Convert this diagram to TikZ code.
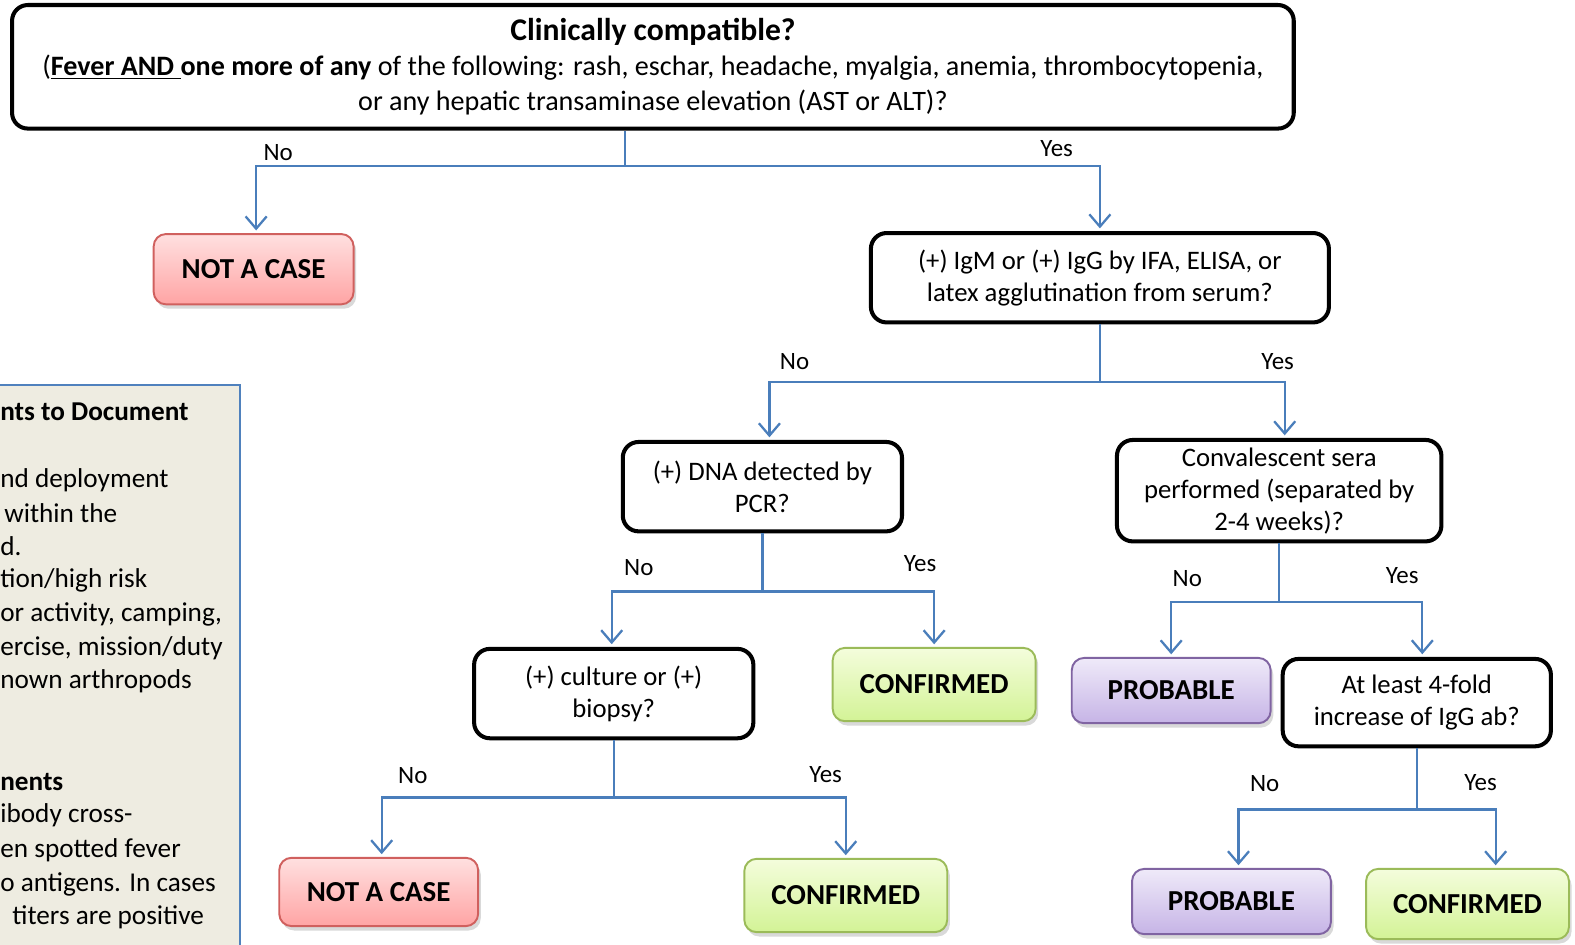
\documentclass[tikz,border=0pt]{standalone}
\usepackage{fontspec}
\setmainfont{Carlito}
\usetikzlibrary{arrows.meta,shadows}

\definecolor{linkblue}{HTML}{4A7EBB}
\definecolor{panelfill}{HTML}{EEECE1}
\definecolor{panelline}{HTML}{4F81BD}
\definecolor{caseline}{HTML}{D0605E}
\definecolor{casetop}{HTML}{FFE0E0}
\definecolor{casebot}{HTML}{FFA4A4}
\definecolor{confline}{HTML}{9BBB59}
\definecolor{conftop}{HTML}{F4FDDC}
\definecolor{confbot}{HTML}{D3F396}
\definecolor{probline}{HTML}{8064A2}
\definecolor{probtop}{HTML}{EFEAF9}
\definecolor{probbot}{HTML}{C6B4E6}

\newcommand{\pxu}{0.02009cm}

\tikzset{
  question/.style={draw, line width=2.3pt, rounded corners=9pt, fill=white, align=center,
    inner sep=0pt, font=\fontsize{15.2}{18.2}\selectfont},
  outcome/.style={draw, line width=1.1pt, rounded corners=7pt, inner sep=0pt,
    font=\fontsize{16.5}{19}\selectfont\bfseries,
    drop shadow={opacity=0.3, shadow xshift=1.5pt, shadow yshift=-2.5pt}},
  notcase/.style={outcome, draw=caseline, top color=casetop, bottom color=casebot},
  confirmed/.style={outcome, draw=confline, top color=conftop, bottom color=confbot},
  probable/.style={outcome, draw=probline, top color=probtop, bottom color=probbot},
  link/.style={draw=linkblue, line width=1.3pt, -{Straight Barb[length=7pt,width=12pt]}, shorten >=1.5pt},
  answer/.style={font=\fontsize{14.2}{16}\selectfont},
  boxsize/.style 2 args={minimum width=#1*\pxu, minimum height=#2*\pxu}
}

\begin{document}
\begin{tikzpicture}[x=\pxu, y=-\pxu]
\useasboundingbox (0,0) rectangle (1568,940);
\clip (0,0) rectangle (1568,940);

% side panel, cut off at the left
\filldraw[fill=panelfill, draw=panelline, line width=1.2pt] (-20,383) rectangle (239,980);
\foreach \i/\yy/\xx/\txt in {1/410/0/{\textbf{nts to Document}}, 2/478/0/{nd deployment},
    3/511/4/{within the}, 4/544/0/{d.}, 5/578/0/{tion/high risk},
    6/612/0/{or activity, camping,}, 7/645/0/{ercise, mission/duty},
    8/678/0/{nown arthropods}, 9/779/0/{\textbf{nents}}, 10/812/0/{ibody cross-},
    11/846/0/{en spotted fever}, 12/880/0/{o antigens. In cases}, 13/913/12/{titers are positive}}
  \node[anchor=west, inner sep=0pt, font=\fontsize{15.5}{18}\selectfont] (note\i) at (\xx,\yy) {\txt};

% questions
\node[question, boxsize={1276}{123}, font=\fontsize{16}{20}\selectfont] (top) at (650,66.5)
  {{\fontsize{18}{20}\selectfont\textbf{Clinically compatible?}}\\
   (\textbf{\underline{Fever AND\ }one more of any} of the following: rash, eschar, headache, myalgia, anemia, thrombocytopenia,\\
   or any hepatic transaminase elevation (AST or ALT)?};
\node[question, boxsize={456}{89}] (igm) at (1095,276.5)
  {(+) IgM or (+) IgG by IFA, ELISA, or\\ latex agglutination from serum?};
\node[question, boxsize={278}{89}] (dna) at (759,484.5) {(+) DNA detected by\\ PCR?};
\node[question, boxsize={323}{101}] (conv) at (1273.5,488.5)
  {Convalescent sera\\ performed (separated by\\ 2-4 weeks)?};
\node[question, boxsize={278}{89}] (cult) at (611,690.5) {(+) culture or (+)\\ biopsy?};
\node[question, boxsize={267}{87}] (fold) at (1410.5,699.5) {At least 4-fold\\ increase of IgG ab?};

% outcomes
\node[notcase, boxsize={199}{70}] (nc1) at (252.5,268) {NOT A CASE};
\node[notcase, boxsize={198}{68}] (nc2) at (377,888) {NOT A CASE};
\node[confirmed, boxsize={202}{73}] (cf1) at (930,681.5) {CONFIRMED};
\node[confirmed, boxsize={202}{73}] (cf2) at (842,891.5) {CONFIRMED};
\node[confirmed, boxsize={202}{70}] (cf3) at (1461,900) {CONFIRMED};
\node[probable, boxsize={198}{65}] (pb1) at (1166,687.5) {PROBABLE};
\node[probable, boxsize={198}{65}] (pb2) at (1226,897.5) {PROBABLE};

% connectors: stem drawn once, second branch starts at the fork
\draw[link] (top.south -| 622,0) -- ++(0,35) -| (nc1.north -| 255,0);
\draw[link] (top.south -| 622,0) ++(0,35) -| (igm.north);
\draw[link] (igm.south) -- ++(0,57) -| (dna.north -| 766,0);
\draw[link] (igm.south) ++(0,57) -| (conv.north -| 1279,0);
\draw[link] (dna.south) -- ++(0,58) -| (cult.north -| 609,0);
\draw[link] (dna.south) ++(0,58) -| (cf1.north);
\draw[link] (conv.south) -- ++(0,58) -| (pb1.north);
\draw[link] (conv.south) ++(0,58) -| (fold.north -| 1416,0);
\draw[link] (cult.south) -- ++(0,57) -| (nc2.north -| 380,0);
\draw[link] (cult.south) ++(0,57) -| (cf2.north);
\draw[link] (fold.south) -- ++(0,61) -| (pb2.north -| 1233,0);
\draw[link] (fold.south) ++(0,61) -| (cf3.north -| 1489,0);

% answers
\node[answer] (a1no) at (277,152) {No};
\node[answer] (a1yes) at (1052,148) {Yes};
\node[answer] (a2no) at (791,360) {No};
\node[answer] (a2yes) at (1272,360) {Yes};
\node[answer] (a3no) at (636,565) {No};
\node[answer] (a3yes) at (916,561) {Yes};
\node[answer] (a4no) at (1182,576) {No};
\node[answer] (a4yes) at (1396,573) {Yes};
\node[answer] (a5no) at (411,772) {No};
\node[answer] (a5yes) at (822,771) {Yes};
\node[answer] (a6no) at (1259,780) {No};
\node[answer] (a6yes) at (1474,779) {Yes};
\end{tikzpicture}
\end{document}
